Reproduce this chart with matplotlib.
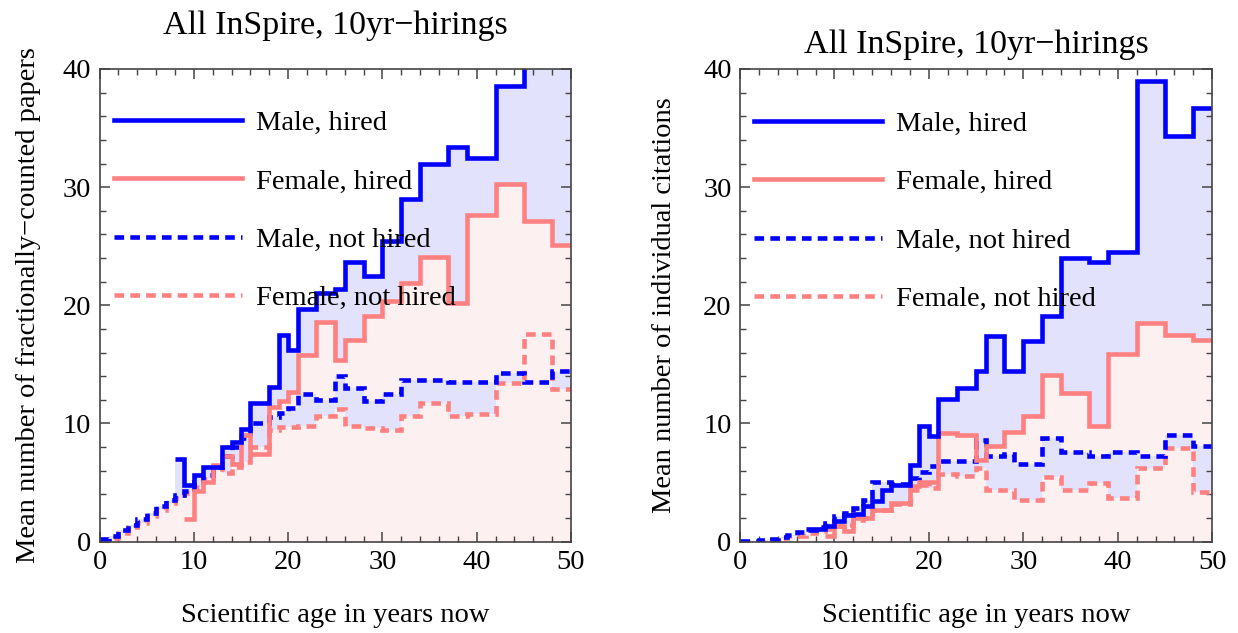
import numpy as np
import matplotlib
matplotlib.use('Agg')
import matplotlib.pyplot as plt
from matplotlib.ticker import MultipleLocator
from matplotlib.lines import Line2D

plt.rcParams['font.family'] = ['Liberation Serif', 'DejaVu Serif']

# ---------------- data (left: fractionally-counted papers) ----------------
L_mh_edges = [8, 9, 10, 11, 13, 14, 15, 16, 18, 19, 20, 21, 23, 25, 26, 28, 30, 32, 34, 37, 39, 42, 45, 50]
L_mh_vals = [7.0, 4.8, 5.6, 6.3, 8.0, 8.4, 9.5, 11.7, 13.1, 17.5, 16.2, 19.7, 21.0, 21.4, 23.7, 22.5,
             25.4, 29.0, 32.0, 33.4, 32.5, 38.6, 44.0]

L_fh_edges = [9, 10, 11, 12, 13, 14, 15, 16, 18, 19, 20, 21, 23, 25, 26, 28, 30, 32, 34, 37, 39, 42, 45, 48, 50]
L_fh_vals = [1.9, 4.3, 5.0, 6.5, 7.2, 6.6, 9.0, 7.4, 11.4, 11.9, 12.7, 15.8, 18.6, 15.4, 17.1, 19.1,
             20.4, 21.9, 24.1, 20.2, 27.6, 30.3, 27.1, 25.1]

L_mnh_edges = [0, 1, 2, 3, 4, 5, 6, 7, 8, 9, 10, 11, 12, 13, 14, 15, 16, 18, 19, 20, 21, 23, 25, 26, 28,
               30, 32, 34, 37, 39, 42, 45, 48, 50]
L_mnh_vals = [0.2, 0.5, 1.0, 1.4, 1.9, 2.4, 3.0, 3.5, 3.9, 4.3, 5.0, 5.6, 6.3, 7.2, 8.0, 8.8, 10.0,
              10.5, 10.9, 11.3, 12.5, 12.0, 14.0, 13.0, 11.9, 12.5, 13.7, 13.7, 13.5, 13.5, 14.3, 13.5, 14.4]

L_fnh_edges = [0, 1, 2, 3, 4, 5, 6, 7, 8, 9, 10, 11, 12, 13, 14, 15, 16, 18, 19, 21, 23, 25, 26, 28,
               30, 32, 34, 37, 39, 42, 45, 48, 50]
L_fnh_vals = [0.1, 0.3, 0.7, 1.2, 1.6, 2.2, 2.7, 3.3, 3.7, 4.1, 4.6, 5.3, 6.3, 5.8, 6.3, 6.7, 8.0,
              9.4, 9.7, 9.8, 10.6, 11.2, 9.8, 9.6, 9.4, 10.6, 11.7, 10.6, 10.8, 13.45, 17.6, 12.9]

# ---------------- data (right: individual citations) ----------------
R_mh_edges = [7, 9, 10, 11, 12, 13, 14, 15, 16, 18, 19, 20, 21, 23, 25, 26, 28, 30, 32, 34, 37, 39, 42, 45, 48, 50]
R_mh_vals = [1.05, 1.3, 1.7, 2.25, 2.3, 3.05, 3.4, 4.4, 4.8, 6.5, 9.75, 8.9, 12.1, 13.0, 14.4, 17.4,
             14.4, 17.0, 19.1, 24.0, 23.7, 24.5, 38.95, 34.3, 36.7]

R_fh_edges = [9, 10, 11, 12, 14, 16, 18, 19, 21, 23, 25, 26, 28, 30, 32, 34, 37, 39, 42, 45, 48, 50]
R_fh_vals = [0.5, 1.3, 0.9, 2.0, 2.7, 3.25, 4.7, 5.0, 9.2, 9.05, 6.9, 8.1, 9.25, 10.6, 14.1, 12.6,
             9.75, 15.9, 18.5, 17.5, 17.1]

R_mnh_edges = [0, 2, 3, 4, 5, 6, 7, 8, 9, 10, 11, 12, 13, 14, 16, 18, 19, 20, 21, 23, 25, 26, 28, 29,
               32, 34, 37, 39, 42, 45, 48, 50]
R_mnh_vals = [0.05, 0.1, 0.2, 0.35, 0.55, 0.8, 1.0, 1.2, 1.6, 2.2, 2.4, 2.8, 3.5, 5.0, 4.9, 5.4,
              5.85, 6.4, 6.85, 6.8, 8.6, 7.25, 7.45, 6.6, 8.8, 7.6, 7.2, 7.55, 7.2, 9.05, 8.05]

R_fnh_edges = [0, 3, 4, 5, 6, 7, 8, 9, 10, 11, 12, 13, 14, 16, 18, 19, 20, 21, 23, 25, 26, 29, 32, 34,
               37, 39, 42, 45, 48, 50]
R_fnh_vals = [0.0, 0.15, 0.3, 0.45, 0.5, 0.7, 0.9, 1.05, 1.3, 1.4, 1.8, 2.0, 2.7, 3.2, 4.4, 4.8, 4.5,
              5.75, 5.55, 6.2, 4.35, 3.55, 5.5, 4.38, 4.95, 3.68, 6.2, 7.9, 4.2]

series_labels = ['Male, hired', 'Female, hired', 'Male, not hired', 'Female, not hired']
titles = ['All InSpire, 10yr\u2212hirings', 'All InSpire, 10yr\u2212hirings']
ylabels = ['Mean number of fractionally\u2212counted papers', 'Mean number of individual citations']
xlabel = 'Scientific age in years now'

# ---------------- style ----------------
BLUE = '#0000FF'
PINK = '#FF8080'
LAV = '#E2E2FD'
PINKFILL = '#FDF0F0'
LW = 3.3
DASH = (0, (2.1, 1.35))
SPINE = '#444444'
FS = 20.5


def values_on(grid, edges, vals):
    mids = 0.5 * (grid[:-1] + grid[1:])
    e = np.asarray(edges, float)
    out = np.full(mids.shape, np.nan)
    idx = np.searchsorted(e, mids) - 1
    ok = (mids > e[0]) & (mids < e[-1])
    out[ok] = np.asarray(vals, float)[idx[ok]]
    return out


def panel(ax, mh, fh, mnh, fnh, title, ylabel, title_pad, ylabel_pad, leg_anchor):
    grid = np.unique(np.concatenate([mh[0], fh[0], mnh[0], fnh[0]]).astype(float))
    MH = values_on(grid, *mh)
    FH = values_on(grid, *fh)
    MNH = values_on(grid, *mnh)
    FNH = values_on(grid, *fnh)

    # lavender between male hired and female hired
    m = ~np.isnan(MH)
    i0 = int(np.argmax(m))
    i1 = len(m) - int(np.argmax(m[::-1]))
    lo = np.nan_to_num(FH[i0:i1], nan=0.0)
    hi = np.maximum(MH[i0:i1], lo)
    ax.stairs(hi, grid[i0:i1 + 1], baseline=lo, fill=True, color=LAV, lw=0, zorder=1)

    # pink under the female curves
    top = np.nan_to_num(np.fmax(FH, FNH), nan=0.0)
    ax.stairs(top, grid, baseline=0, fill=True, color=PINKFILL, lw=0, zorder=1.1)

    # lavender between male not hired and female not hired
    lo2 = np.nan_to_num(FNH, nan=0.0)
    hi2 = np.maximum(np.nan_to_num(MNH, nan=0.0), lo2)
    ax.stairs(hi2, grid, baseline=lo2, fill=True, color=LAV, lw=0, zorder=1.2)

    # lines
    ax.stairs(fnh[1], fnh[0], baseline=None, color=PINK, lw=LW, ls=DASH, zorder=3)
    ax.stairs(mnh[1], mnh[0], baseline=None, color=BLUE, lw=LW, ls=DASH, zorder=3.1)
    ax.stairs(fh[1], fh[0], baseline=None, color=PINK, lw=LW, zorder=3.2)
    ax.stairs(mh[1], mh[0], baseline=None, color=BLUE, lw=LW, zorder=3.3)

    ax.set_xlim(0, 50)
    ax.set_ylim(0, 40)
    ax.xaxis.set_major_locator(MultipleLocator(10))
    ax.xaxis.set_minor_locator(MultipleLocator(2))
    ax.yaxis.set_major_locator(MultipleLocator(10))
    ax.yaxis.set_minor_locator(MultipleLocator(2))
    ax.tick_params(which='both', direction='in', top=True, right=True, color=SPINE,
                   labelsize=FS, labelcolor='black')
    ax.tick_params(which='major', length=7, width=1.1, pad=6)
    ax.tick_params(which='minor', length=4, width=1.0)
    for sp in ax.spines.values():
        sp.set_color(SPINE)
        sp.set_linewidth(1.2)
        sp.set_zorder(5)

    ax.set_title(title, fontsize=24.5, pad=title_pad)
    ax.set_ylabel(ylabel, fontsize=FS, labelpad=ylabel_pad)
    ax.set_xlabel(xlabel, fontsize=FS, labelpad=20)

    handles = [Line2D([], [], color=BLUE, lw=LW),
               Line2D([], [], color=PINK, lw=LW),
               Line2D([], [], color=BLUE, lw=LW, ls=DASH),
               Line2D([], [], color=PINK, lw=LW, ls=DASH)]
    ax.legend(handles, series_labels, loc='upper left', bbox_to_anchor=leg_anchor,
              frameon=False, fontsize=FS, handlelength=4.5, handletextpad=0.49,
              labelspacing=1.14, borderpad=0, borderaxespad=0)


fig = plt.figure(figsize=(12.38, 6.33), dpi=100)
axL = fig.add_axes([0.0804, 0.1445, 0.3808, 0.7465])
axR = fig.add_axes([0.5977, 0.1445, 0.3815, 0.7465])

panel(axL, (L_mh_edges, L_mh_vals), (L_fh_edges, L_fh_vals), (L_mnh_edges, L_mnh_vals),
      (L_fnh_edges, L_fnh_vals), titles[0], ylabels[0], 25.5, 15.5, (0.03, 0.913))
panel(axR, (R_mh_edges, R_mh_vals), (R_fh_edges, R_fh_vals), (R_mnh_edges, R_mnh_vals),
      (R_fnh_edges, R_fnh_vals), titles[1], ylabels[1], 11.5, 18.5, (0.03, 0.911))

fig.savefig('out.png', dpi=100)
